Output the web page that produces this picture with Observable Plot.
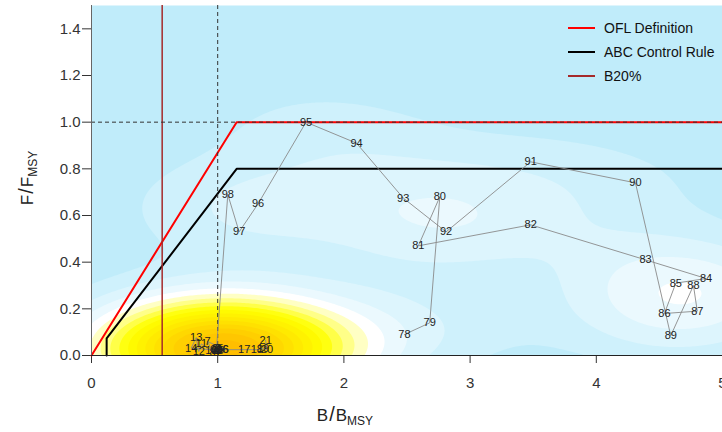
<!DOCTYPE html>
<html><head><meta charset="utf-8">
<script src="https://cdn.jsdelivr.net/npm/d3@7"></script>
<script src="https://cdn.jsdelivr.net/npm/@observablehq/plot@0.6"></script>
<style>
body{margin:0;background:#fff;}
#chart{position:relative;width:722px;height:432px;font-family:"Liberation Sans",Arial,sans-serif;}
#legend{position:absolute;left:568px;top:16px;font-size:14px;color:#111;}
#legend .row{display:flex;align-items:center;height:24px;}
#legend .sw{width:27px;height:0;margin-right:9px;}
</style></head><body><div id="chart"></div>
<script>
// Year labels (two-digit / modulo-100 years as printed)
const years = ["78","79","80","81","82","83","84","85","86","87","88","89","90","91","92","93","94","95","96","97","98","99",
  "0","1","2","3","4","5","6","7","8","9","10","11","12","13","14","15","16","17","18","19","20","21"];
// B/BMSY per year
const bRatio = [2.48,2.68,2.76,2.59,3.48,4.39,4.87,4.63,4.54,4.80,4.77,4.59,4.31,3.48,2.81,2.47,2.10,1.70,1.32,1.17,1.08,0.99,
  0.97,1.00,0.98,1.01,0.99,1.02,1.06,0.92,0.96,1.00,0.95,0.87,0.85,0.83,0.79,1.00,1.04,1.21,1.31,1.36,1.39,1.38];
// F/FMSY per year
const fRatio = [0.09,0.14,0.68,0.47,0.56,0.41,0.33,0.31,0.18,0.19,0.30,0.085,0.74,0.83,0.53,0.675,0.91,1.00,0.65,0.53,0.69,0.025,
  0.020,0.015,0.030,0.020,0.012,0.030,0.025,0.060,0.012,0.030,0.020,0.050,0.017,0.077,0.032,0.022,0.025,0.025,0.025,0.030,0.025,0.065];

// Harvest control rules
const oflB = [0, 1.15, 5];
const oflF = [0, 1.0, 1.0];
const abcB = [0.12, 0.12, 1.15, 5];
const abcF = [0, 0.073, 0.8, 0.8];
const b20 = [0.56];
const refB = [1];
const refF = [1];

const xTicks = [0, 1, 2, 3, 4, 5];
const yTicks = [0, 0.2, 0.4, 0.6, 0.8, 1.0, 1.2, 1.4];

// density contour levels and palette
const levels = [0.05,0.1,0.15,0.2,0.25,0.3,0.35,0.4,0.45,0.5,0.55,0.6,0.65,0.7,0.75,0.8,0.85,0.9];
const levelColors = ["#CFF1FC","#DDF5FD","#EBF9FE","#FFFFFF","#FFFFC4","#FFFF88","#FFFF48","#FFFF10","#FFFA00","#FFF200",
  "#FFEA00","#FFE100","#FFD800","#FFCF00","#FFC600","#FFBE00","#FFB608","#FFAE10"];

const pts = years.map((t, i) => ({year: t, b: bRatio[i], f: fRatio[i]}));
const ofl = oflB.map((b, i) => ({b, f: oflF[i]}));
const abc = abcB.map((b, i) => ({b, f: abcF[i]}));

// 2-D kernel density (normal kernels, normal-reference bandwidths) of the trajectory
function bwNrd(v) {
  const s = d3.deviation(v);
  const iqr = d3.quantile(v, 0.75) - d3.quantile(v, 0.25);
  return 4 * 1.06 * Math.min(s, iqr / 1.34) * Math.pow(v.length, -0.2);
}
const hx = bwNrd(bRatio) / 4, hy = bwNrd(fRatio) / 4;
const n = bRatio.length;
const kde = (x, y) => {
  let s = 0;
  for (let i = 0; i < n; ++i) {
    const u = (x - bRatio[i]) / hx, v = (y - fRatio[i]) / hy;
    s += Math.exp(-0.5 * (u * u + v * v));
  }
  return s / (n * 2 * Math.PI * hx * hy);
};

const font = '"Liberation Sans", Arial, sans-serif';
const chart = Plot.plot({
  width: 722, height: 432,
  marginLeft: 91, marginRight: 0, marginTop: 5, marginBottom: 77,
  style: {fontFamily: font, fontSize: "15px", color: "#333", background: "white"},
  x: {domain: [0, 5], ticks: xTicks, tickSize: 8, tickPadding: 14, label: null, tickFormat: d3.format("d")},
  y: {domain: [0, 1.5], ticks: yTicks, tickSize: 9, tickPadding: 2, label: null, tickFormat: d3.format(".1f")},
  color: {type: "ordinal", domain: levels, range: levelColors},
  marks: [
    Plot.frame({fill: "#C0ECFA", stroke: null}),
    Plot.contour({fill: kde, x1: 0, x2: 5, y1: 0, y2: 1.5, thresholds: levels, stroke: "none"}),
    Plot.line(ofl, {x: "b", y: "f", stroke: "#FF0000", strokeWidth: 2}),
    Plot.line(abc, {x: "b", y: "f", stroke: "#000", strokeWidth: 2}),
    Plot.ruleX(b20, {stroke: "#A52A2A", strokeWidth: 1.5}),
    Plot.ruleX(refB, {stroke: "#333", strokeDasharray: "4,3", strokeWidth: 1}),
    Plot.ruleY(refF, {stroke: "#333", strokeDasharray: "4,3", strokeWidth: 1}),
    Plot.line(pts, {x: "b", y: "f", stroke: "#8a8a8a", strokeWidth: 0.9}),
    Plot.text(pts, {x: "b", y: "f", text: "year", fill: "#222", fontSize: 11}),
    Plot.ruleY([0], {stroke: "#222"}),
    Plot.ruleX([0], {stroke: "#666"})
  ]
});
document.getElementById("chart").appendChild(chart);

// Axis titles with subscripts
const svg = d3.select(chart);
const xt = svg.append("text").attr("x", 345).attr("y", 421).attr("text-anchor", "middle")
  .style("font-size", "17px").attr("fill", "#222").style("font-family", font);
xt.append("tspan").text("B");
xt.append("tspan").text("/").style("font-size", "20px").attr("dx", 1);
xt.append("tspan").text("B").attr("dx", 1);
xt.append("tspan").text("MSY").style("font-size", "12px").attr("dy", 4);
const yt = svg.append("text").attr("transform", "translate(33,178) rotate(-90)").attr("text-anchor", "middle")
  .style("font-size", "17px").attr("fill", "#222").style("font-family", font);
yt.append("tspan").text("F");
yt.append("tspan").text("/").style("font-size", "20px").attr("dx", 1);
yt.append("tspan").text("F").attr("dx", 1);
yt.append("tspan").text("MSY").style("font-size", "12px").attr("dy", 4);

// Legend
const legendItems = [["OFL Definition", "#FF0000"], ["ABC Control Rule", "#000000"], ["B20%", "#A52A2A"]];
const lg = document.createElement("div");
lg.id = "legend";
lg.innerHTML = legendItems.map(([t, c]) =>
  `<div class="row"><span class="sw" style="border-top:2px solid ${c}"></span><span>${t}</span></div>`).join("");
document.getElementById("chart").appendChild(lg);
</script>
</body></html>
